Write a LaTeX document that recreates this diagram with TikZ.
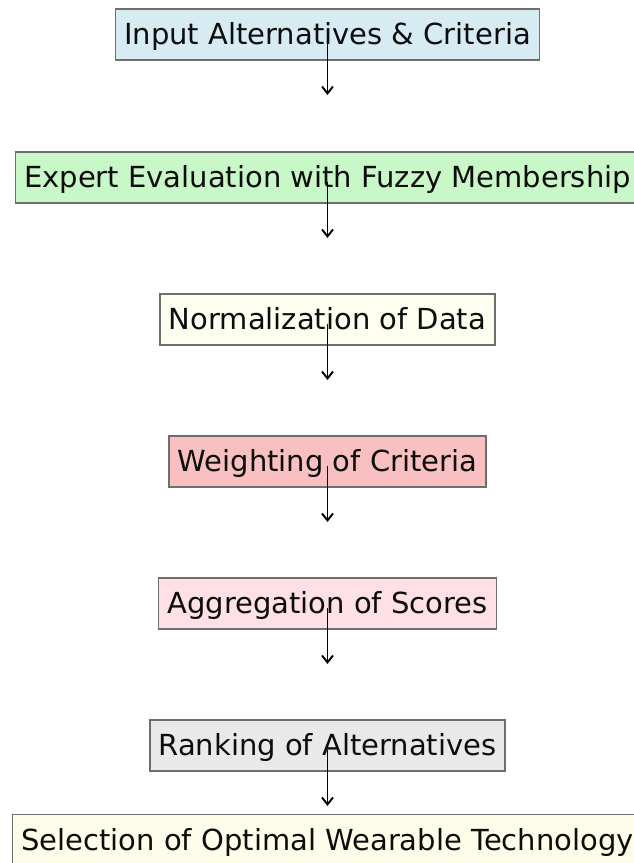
\documentclass[tikz,border=0pt]{standalone}
\usepackage{fontspec}
\setmainfont{DejaVu Sans}
\usetikzlibrary{arrows.meta}
\definecolor{cBlue}{HTML}{D6ECF2}
\definecolor{cGreen}{HTML}{C8F7C8}
\definecolor{cYellow}{HTML}{FFFFF0}
\definecolor{cCoral}{HTML}{F8C0C0}
\definecolor{cPink}{HTML}{FFE0E5}
\definecolor{cGray}{HTML}{E9E9E9}
\definecolor{cGold}{HTML}{FDFDE9}
\definecolor{cEdge}{HTML}{6E6E6E}
\tikzset{
  stagebox/.style={draw=cEdge, line width=1.6pt, rectangle,
    font=\fontsize{29}{34}\selectfont, text=black!95,
    text height=26.9pt, text depth=6.8pt,
    inner xsep=8.7pt, inner ysep=8.7pt},
  flowarrow/.style={line width=1.9pt, -{Straight Barb[length=7pt,width=11pt,line width=1.9pt]}}
}
\begin{document}
\begin{tikzpicture}[x=1pt,y=-1pt]
\useasboundingbox (0,0) rectangle (634,863);
\clip (0,0) rectangle (634,863);
\node[stagebox, fill=cBlue]   (s1) at (327.5,34.5)  {Input Alternatives \& Criteria};
\node[stagebox, fill=cGreen]  (s2) at (327.5,177.5) {Expert Evaluation with Fuzzy Membership};
\node[stagebox, fill=cYellow] (s3) at (327.5,319.5) {Normalization of Data};
\node[stagebox, fill=cCoral]  (s4) at (327.5,461.5) {Weighting of Criteria};
\node[stagebox, fill=cPink]   (s5) at (327.5,603.5) {Aggregation of Scores};
\node[stagebox, fill=cGray]   (s6) at (327.5,745.5) {Ranking of Alternatives};
\node[stagebox, fill=cGold]   (s7) at (327.5,840)   {Selection of Optimal Wearable Technology};
% arrows start just below each box centre and stop in the gap
\foreach \i in {1,...,6}{
  \coordinate (e\i) at ([yshift=-60.5pt]s\i.center);
  \draw[flowarrow] ([yshift=-4pt]s\i.center) -- (e\i);
}
\end{tikzpicture}
\end{document}
